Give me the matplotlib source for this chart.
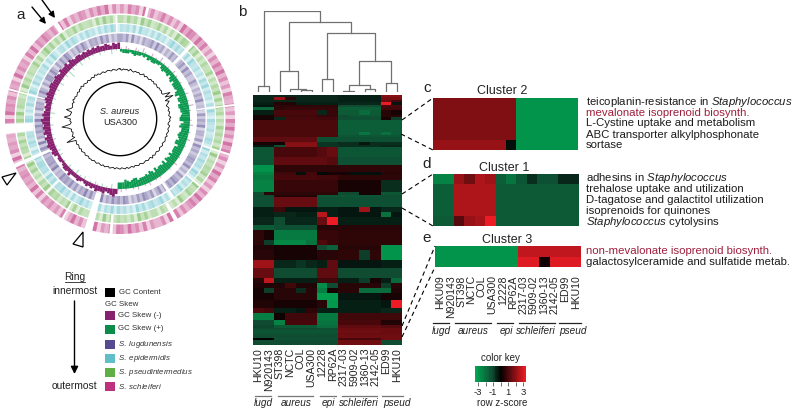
import numpy as np
import matplotlib
matplotlib.use('Agg')
import matplotlib.pyplot as plt
from matplotlib.colors import LinearSegmentedColormap, to_rgb
from matplotlib.patches import Polygon, Rectangle

plt.rcParams['font.family'] = ['Liberation Sans', 'DejaVu Sans']
plt.rcParams['mathtext.fontset'] = 'custom'
plt.rcParams['mathtext.rm'] = 'Liberation Sans'
plt.rcParams['mathtext.it'] = 'Liberation Sans:italic'

W, H = 800, 409

# Panel a: one digit per 2 degree sector, clockwise from north
ring_pink = ("5274618362" "4736251847" "6384725163" "7483625174" "3625174836" "2847361528"
             "4725163847" "5362748163" "3517264836" "7263518472" "6384172536" "4617283546"
             "5372816453" "4263718564" "6274518364" "5173826475" "3648271536" "5263748162")
ring_green = ("4263517362" "3625141736" "5273614253" "3614253726" "2735142635" "3526172435"
              "4625173462" "3714263514" "4263715243" "5362714253" "3516273425" "4627351426"
              "3726145362" "5142637254" "4261735243" "3625147362" "5271436253" "3416273514")
ring_cyan = ("4352617342" "5263414736" "3526174352" "4163725341" "5273164352" "3641725364"
             "5274163527" "4361527436" "5263714253" "6273516472" "5374261537" "4526371546"
             "6372514635" "4263751426" "3527416352" "4361527314" "5273641526" "3415263741")
ring_purple = ("5361724153" "4627351426" "3514627352" "2631425372" "3416253714" "4261735246"
               "5372416357" "4635274163" "5736241573" "6473528463" "7384526374" "6573428465"
               "5364728153" "6473825164" "5263741526" "6374152637" "5142637415" "4527361425")
skew_major = ("2333234332" "3243443324" "5445356466" "6578577688" "7767885786" "6787688577"
              "7686785867" "7685786766" "6577656755" "5465435445" "3434323433" "3534432332"
              "4545655646" "5656756545" "4565655665" "5654655646" "5455454545" "4544543545")
skew_minor = ("1021002103" "1002010301" "0100201001" "0010200103" "0100010200" "1002001000"
              "0100200100" "0010100201" "0020100102" "1003010201" "2010020103" "0102001002"
              "0201002010" "1020010301" "0102010200" "3010205020" "1030102010" "0201003010")
gc_dev = [1, -1, 1, 0, 1, -1, 2, 0, -1, 1, 0, 1, -1, 0, 2, -1, 1, 0, -1, 1,
          0, 1, -1, 1, 0, -1, 1, 0, 1, -1, 0, 10, 1, 12, -1, 4, 1, -2, 0, 1,
          -1, 1, 0, -1, 2, 0, 1, -1, -2, 1, 0, -1, 1, 0, -1, 1, -1, 0, 1, 0,
          -1, 1, 0, -1, 1, 1, -1, 0, 1, -1, 2, -1, 0, 1, -1, 0, 1, 0, -1, 1,
          0, -1, 1, -1, 0, 1, -1, 1, 0, -1, 1, 0, -1, 1, -1, 0, 1, -1, 0, 1,
          -1, 1, 0, -1, 1, 0, -1, 1, 0, 1, -1, 0, 1, -1, 0, 1, -1, 1, 0, -1,
          1, 0, -1, 12, -1, 2, 0, -1, 1, 0, 4, 13, 1, -1, 1, 0, 9, 1, 0, -1,
          7, 1, -1, 0, 1, -1, 2, 0, 1, -1, 0, 1, -1, 1, 0, 2, -1, 1, 0, -1,
          1, -1, 0, 1, -1, 2, 0, 1, -1, 0, 1, -1, 0, 1, 0, -1, 1, 0, -1, 1]
gap_theta = [326, 14, 358, 44, 83, 108, 146, 151, 184.5, 196, 265, 285, 246, 130, 225, 210]
gap_width = [2.5, 1.5, 1, 2, 1, 1, 2, 2, 1.5, 4, 5, 1, 2, 1, 1, 1]
gap_inner = [105, 105, 87, 77, 77, 87, 77, 96, 96, 77, 87, 77, 77, 87, 87, 96]
gap_outer = [116, 116, 104, 104, 116, 116, 96, 116, 116, 116, 116, 116, 116, 104, 104, 116]

legend_names = ['GC Content', 'GC Skew (-)', 'GC Skew (+)', r'$\it{S.\ lugdunensis}$',
                r'$\it{S.\ epidermidis}$', r'$\it{S.\ pseudintermedius}$', r'$\it{S.\ schleiferi}$']
legend_colors = ['#000000', '#87206e', '#0c8c4b', '#554b91', '#5fbec8', '#5faf46', '#be327d']

# Panel b
strains = ['HKU10', 'N920143', 'ST398', 'NCTC', 'COL', 'USA300', '12228', 'RP62A',
           '2317-03', '5909-02', '1360-13', '2142-05', 'ED99', 'HKU10']
strains_e = ['HKU09'] + strains[1:]
species = ['lugd', 'aureus', 'epi', 'schleiferi', 'pseud']
# linkage style: left id, right id, height; ids from 14 are earlier merges
merges = [(0, 1, 17), (4, 5, 5), (3, 15, 7), (2, 16, 63), (6, 7, 37), (8, 9, 3), (10, 11, 9),
          (19, 20, 20), (12, 13, 25), (21, 22, 93), (18, 23, 175), (17, 24, 210), (14, 25, 243)]

heat_counts = [1, 1, 1, 1, 1, 1, 2, 1, 1, 5, 1, 1, 2, 1, 1, 4, 3, 3, 1, 2, 5, 1, 1, 4, 2, 2, 3, 2, 4, 2,
               2, 4, 3, 4, 2, 2, 2, 3, 3, 2, 3, 2, 1, 1, 1, 1, 1, 1, 2]
heat_rows = [
    [-.5, -.5, -.5, -.5, -.5, -.5, -.5, -.5, -.4, -.4, -.4, -.4, 1.7, 1.7],
    [-.5, -.5, 1.9, .6, -.5, -.5, -.5, -.5, -.4, -.4, -.4, -.4, 1.5, 1.5],
    [-.5, -.5, -.5, -.5, -.5, -.5, -.5, -.5, -.4, -.4, -.4, -.4, 1.3, .8],
    [-.4, -.4, .4, .4, -.4, -.4, -.4, -.4, -.5, -.5, -.5, -.5, 3, -.3],
    [-.3, -.3, .6, .6, .6, .6, .6, .6, -1, -1, -1, -1, 1, .9],
    [-1.6, -1.6, .6, .7, .7, .7, .7, .7, -1.4, -1.4, -1.4, -1.4, .8, .8],
    [-.4, -.4, .9, .9, .9, .9, -.5, .7, -1.3, -1.3, -1.7, -1.3, .5, .3],
    [.3, .3, .8, .8, .8, .8, .7, .7, -1, -1.2, -1.2, -1.2, .5, .5],
    [.3, .3, -.5, .9, .9, .9, .8, .8, -1.1, -1.1, -1.1, -1.1, .3, -.8],
    [.95, .95, .95, .95, .95, .95, .95, .95, -1.4, -1.4, -1.4, -1.4, -1.4, -1.4],
    [.95, .95, .95, .95, .95, .95, .95, .95, -1.4, -1.4, -1.9, -1.4, -1.8, -1.4],
    [.95, .95, .95, .95, .95, .95, .95, .95, -1.2, -1.2, -1.2, -1.2, -1.2, -1.2],
    [1.2, 1.2, 1.2, 1.2, 1.2, 1.2, -1.1, -1.1, -1.1, -1.1, -1.1, -1.1, -1.1, -1.1],
    [.3, .3, .2, 1.7, 1.7, 1.7, -.7, -.7, -.6, -.6, -.3, -.6, -.6, -.6],
    [-.3, -.3, -1, 1.7, 1.7, 1.7, -.7, -.7, -.6, -.6, -.6, -.6, -.5, -.5],
    [-1.2, -1.2, .9, .9, .9, .9, 1.1, 1.3, -1.2, -1.2, -1.2, -1.2, -1.2, -1.2],
    [-1.2, -1.2, 1.2, 1.2, 1.2, 1.2, 1.2, 1.1, -1.1, -1.1, -1.1, -1.1, -1.1, -1.1],
    [-2.6, -2.6, .6, .6, .6, .6, .6, .6, .6, .6, .6, .6, .6, .6],
    [-2.2, -2.2, .8, .8, -.2, .8, -.1, .3, .3, -.2, -.2, -.2, .5, .5],
    [-2.0, -2.0, .9, .9, .9, .9, .8, .8, .6, .6, .6, .6, .6, .6],
    [-2.2, -2.2, .7, .7, .7, .7, .7, .7, .3, .3, .3, .3, -.6, -.6],
    [-1.1, .5, .6, .6, .6, .6, .6, .6, -1, -1, .3, .3, -1.2, -1.2],
    [-1, -1, .4, .4, .4, .4, -1.2, -1.2, -1.2, -1.2, -1.2, -1.2, -1, -1],
    [-1.1, -1.1, 1.3, 1.3, 1.3, 1.3, -1.1, -1.1, -1.1, -1.1, -1.1, -1.1, -1.1, -1.1],
    [-.4, -.4, .8, -.3, -.3, -.3, -.4, -.4, -.3, -.3, 2.0, -.3, -.5, -.5],
    [-.4, -.4, -.5, -.5, -.4, -.4, 2.3, -.4, -.3, -.3, -.3, -.3, -1.8, -.3],
    [-.5, -.5, -1, -.5, -.5, -.5, 1.3, 3, -.4, -.4, -.4, -.4, -.4, -.4],
    [-1.3, -1.3, -1.1, -1.1, -1.1, -1.1, .5, .5, .5, .5, .5, .5, .5, .5],
    [.6, .3, -2, -2, -2, -2, .7, .7, .6, .6, .6, .6, .6, .6],
    [.6, -.8, -2.3, -2.3, -2.3, -1.9, 1, .7, .6, .6, .6, .6, .6, .6],
    [.4, .4, .3, .3, .3, .3, -1, -1.5, .5, .5, .5, .5, -2.6, -2.6],
    [.5, .5, .3, .3, .3, .3, .5, .5, .6, .6, -.8, .6, -2.6, -2.6],
    [2, 2, -.5, -.5, -.7, -.5, -.4, 1.2, -.3, -.3, -.3, -.3, -.4, -.4],
    [1.3, 1.3, -1, -1, -1, -1, 1.2, 1.2, -1, -1, -1, -1, -1, -1],
    [.5, 2.4, -.4, -.4, -.4, -.4, .8, .8, -.4, -.4, -.8, .3, -.4, -1.6],
    [.4, .4, .4, .8, .4, .4, -2.4, -1, .5, .5, .5, .5, -.8, .5],
    [.3, -.8, .5, .5, -.6, .5, -2.1, .3, .5, .5, -1.7, -1.7, -1.7, .4],
    [.3, .3, .5, .5, .5, .5, -2.8, -2.8, -.3, -.3, -.3, -.3, .3, .3],
    [.4, .4, .3, .3, .3, .3, .5, -2.7, -.4, -.4, -.4, -.4, -.3, 3],
    [1, .8, -.4, -.4, -.3, .6, -.4, -.4, -.4, -.4, -.4, -.4, -.5, -.5],
    [-2.1, -2.1, .2, .8, .8, .8, -2, -2, .8, .8, .8, .8, .8, .8],
    [-1, -1, -2.2, .9, .9, .9, -1.9, -1.9, .9, .9, .9, .9, .4, .4],
    [-.9, -.9, -1.3, -1.3, -1.3, -1.3, -1.7, -1.7, 1.2, 1.2, 1.2, 1.2, 1.1, 1.1],
    [-1, -1, -1, -1, -1, -1, -1.1, -1.1, 1.35, 1.35, 1.35, 1.35, 1.35, 1.35],
    [-1.2, -1.2, -1.2, -1.2, -1.2, -1.2, -1.2, -1.2, 1.4, 1.4, 1.4, 1.4, 1.35, 1.35],
    [-1.1, -1.1, -1.1, -1.1, -1.1, -1.1, -1.1, -1.1, 1.35, 1.35, 1.35, 1.35, 1.35, 1.35],
    [-1, -1, -1, -1, -1, -1, -1, -1, 1.4, 1.4, 1.4, 1.4, 1.4, 1.4],
    [0, 0, -1.1, -1.1, -1.1, -1.1, -1.1, -1.1, .9, .9, .9, .9, 1.4, 1.4],
    [-1, -1, -1, -1, -1, -1, -1, -1, 1.4, 1.4, 1.4, 1.4, -1, -1],
]

# Panels c, d, e
cluster2 = [[1.6] * 8 + [-2.6] * 6] * 4 + [[1.9] * 7 + [-.2] + [-2.6] * 6]
cluster1 = [[-2.2, -2.2, 1.9, 1.4, 2.2, 2, -1.4, -1.9, -1.2, -.6, -1.1, -1.1, -.5, -.5]] \
    + [[-1.4, -1.4, 2.2, 2.2, 2.2, 2.2] + [-1.3] * 8] * 3 \
    + [[-1.3, -1.3, 1.1, 1.9, 2.1, 3] + [-1.3] * 8]
cluster3 = [[-2.6] * 8 + [2.4] * 6,
            [-2.6] * 8 + [2.8, 2.8, .2, 2.8, 2.8, 2.8]]
terms_c = ['teicoplanin-resistance in $\\it{Staphylococcus}$', 'mevalonate isoprenoid biosynth.',
           'L-Cystine uptake and metabolism', 'ABC transporter alkylphosphonate', 'sortase']
terms_d = ['adhesins in $\\it{Staphylococcus}$', 'trehalose uptake and utilization',
           'D-tagatose and galactitol utilization', 'isoprenoids for quinones',
           '$\\it{Staphylococcus}$ cytolysins']
terms_e = ['non-mevalonate isoprenoid biosynth.', 'galactosylceramide and sulfatide metab.']
key_ticks = [-3, -2, -1, 0, 1, 2, 3]

cmap = LinearSegmentedColormap.from_list('gkr', [(0, '#00a651'), (1 / 3, '#0f4c32'), (.5, '#000000'), (1, '#ed1c24')])


def px_axes(x0, y0, x1, y1, **kw):
    # axes placed with reference pixels, y going down
    return fig.add_axes([x0 / W, 1 - y1 / H, (x1 - x0) / W, (y1 - y0) / H], **kw)


def draw_heat(rows, box, counts=None, labels=None, size=7.6, pad=2):
    ax = px_axes(*box)
    arr = np.array(rows, dtype=float)
    if counts is None:
        counts = [1] * len(rows)
    edges = np.concatenate([[0], np.cumsum(counts)])
    ax.pcolormesh(np.arange(arr.shape[1] + 1), edges, arr, cmap=cmap, vmin=-3, vmax=3)
    ax.set_ylim(edges[-1], 0)
    ax.set_yticks([])
    for s in ax.spines.values():
        s.set_visible(False)
    if labels:
        ax.set_xticks(np.arange(len(labels)) + .5, labels, rotation=90, fontsize=size, color='#222222')
        ax.tick_params(axis='x', length=0, pad=pad)
    else:
        ax.set_xticks([])
    return ax


fig = plt.figure(figsize=(W / 100, H / 100), dpi=100, facecolor='white')

# a: genome rings
ax_a = px_axes(4, 3, 236, 235, projection='polar')
ax_a.set_theta_zero_location('N')
ax_a.set_theta_direction(-1)
ax_a.set_ylim(0, 116)
ax_a.axis('off')

rings = [(ring_purple, 77, 85.5, '#554b91'), (ring_cyan, 87, 95, '#5fbec8'),
         (ring_green, 96, 104, '#5faf46'), (ring_pink, 105.5, 115, '#be327d')]
for digits, r0, r1, col in rings:
    vals = np.array([int(c) for c in digits])
    th = np.radians((np.arange(len(vals)) + .5) * 360 / len(vals))
    rgb = to_rgb(col)
    colors = [rgb + (.16 + .065 * v,) for v in vals]
    ax_a.bar(th, r1 - r0, width=np.radians(360 / len(vals)), bottom=r0, color=colors, linewidth=0)

ax_a.bar(np.radians(gap_theta), np.array(gap_outer) - np.array(gap_inner), width=np.radians(gap_width),
         bottom=gap_inner, color='white', linewidth=0)

major = np.array([int(c) for c in skew_major])
minor = np.array([int(c) for c in skew_minor])
th = (np.arange(len(major)) + .5) * 2
right = th < 182
w = np.radians(2.1)
# green goes inward on the right half, purple outward on the left half
ax_a.bar(np.radians(th[right]), major[right] * 1.3, width=w, bottom=70 - major[right] * 1.3, color='#0c9a50', linewidth=0)
ax_a.bar(np.radians(th[~right]), major[~right] * 1.3, width=w, bottom=70, color='#87206e', linewidth=0)
ax_a.bar(np.radians(th[right]), minor[right] * 1.6, width=np.radians(.8), bottom=70, color='#87206e', alpha=.4, linewidth=0)
ax_a.bar(np.radians(th[~right]), minor[~right] * 1.6, width=np.radians(.8), bottom=70 - minor[~right] * 1.6, color='#0c9a50', alpha=.4, linewidth=0)

gc_theta = np.radians(np.arange(len(gc_dev) + 1) * 2)
gc_r = 49.5 + np.array(gc_dev + gc_dev[:1]) * .7
ax_a.plot(gc_theta, gc_r, color='#111111', lw=.6)
circle_th = np.linspace(0, 2 * np.pi, 361)
ax_a.plot(circle_th, np.full(361, 36.7), color='black', lw=1)

# b: dendrogram
ax_d = px_axes(253, 10.7, 402, 91.7)
pos = {i: i + .5 for i in range(14)}
top = {i: 0 for i in range(14)}
for n, (a, b, h) in enumerate(merges):
    ax_d.plot([pos[a], pos[a], pos[b], pos[b]], [top[a], h, h, top[b]], color='#707070', lw=.9)
    pos[14 + n] = (pos[a] + pos[b]) / 2
    top[14 + n] = h
ax_d.set_xlim(0, 14)
ax_d.set_ylim(0, 243)
ax_d.axis('off')

# b: main heatmap
draw_heat(heat_rows, (253, 95, 402, 345), heat_counts, strains)

# c, d, e
draw_heat(cluster2, (433, 98, 578, 150))
draw_heat(cluster1, (433, 174, 579, 226))
draw_heat(cluster3, (435, 246, 581, 267), labels=strains_e, pad=6)

# colour key
ax_k = px_axes(475, 366, 526, 382)
ax_k.pcolormesh(np.linspace(-3.4, 3.4, 61), [0, 1], np.linspace(-3, 3, 60)[None, :], cmap=cmap, vmin=-3, vmax=3)
ax_k.set_yticks([])
ax_k.set_xticks(key_ticks, ['-3', '', '-1', '', '1', '', '3'], fontsize=6.8, color='#222222')
ax_k.tick_params(axis='x', length=3, width=.6, color='#555555', pad=1.5)
for s in ax_k.spines.values():
    s.set_visible(False)

# page overlay for the annotations
ax_p = px_axes(0, 0, W, H)
ax_p.set_xlim(0, W)
ax_p.set_ylim(H, 0)
ax_p.axis('off')
ax_p.patch.set_alpha(0)

for letter, x, y in [('a', 21, 15), ('b', 242, 12), ('c', 427, 88), ('d', 427, 164), ('e', 427, 238)]:
    ax_p.text(x, y, letter, fontsize=11, ha='center', va='center', color='#222222')

ax_p.text(120, 112, 'S. aureus', fontsize=6.6, style='italic', ha='center', va='center', color='#222222')
ax_p.text(120, 122.5, 'USA300', fontsize=6.6, ha='center', va='center', color='#222222')

for (x0, y0, x1, y1) in [(32, 7, 46, 24), (42, 0, 55, 18)]:
    ax_p.annotate('', xy=(x1, y1), xytext=(x0, y0),
                  arrowprops=dict(arrowstyle='-|>', color='black', lw=1, mutation_scale=9, shrinkA=0, shrinkB=0))
ax_p.add_patch(Polygon([(2, 177), (16, 173), (7, 185)], fc='white', ec='black', lw=.9))
ax_p.add_patch(Polygon([(73, 244), (83, 247), (83, 232)], fc='white', ec='black', lw=.9))

# legend
ax_p.text(75, 276.5, 'Ring', fontsize=7.4, ha='center', va='center', color='#222222')
ax_p.plot([65, 85], [281.5, 281.5], color='#222222', lw=.6)
ax_p.text(75, 291, 'innermost', fontsize=7.4, ha='center', va='center', color='#222222')
ax_p.text(74, 386, 'outermost', fontsize=7.4, ha='center', va='center', color='#222222')
ax_p.annotate('', xy=(74.5, 374), xytext=(74.5, 301),
              arrowprops=dict(arrowstyle='-|>', color='black', lw=1, mutation_scale=11, shrinkA=0, shrinkB=0))
ax_p.text(105, 304.5, 'GC Skew', fontsize=5.7, va='center', color='#333333')
legend_y = [292.5, 315.5, 329, 344.5, 358.5, 372.5, 386.5]
for name, col, y in zip(legend_names, legend_colors, legend_y):
    ax_p.add_patch(Rectangle((105, y - 4.5), 9.5, 9, fc=col, ec='none'))
    ax_p.text(117.5 if y > 295 else 119, y, name, fontsize=5.7, va='center', color='#333333')

# species bars and labels under the two labelled heatmaps
bars_b = [(255, 271), (278, 313), (320, 336), (342, 377), (382, 403)]
bars_e = [(433, 449), (455, 491), (497, 513), (519, 555), (559, 581)]
cent_b = [263, 296, 328, 359, 397]
cent_e = [441, 473, 506, 536, 573]
for bars, cents, y_bar, y_txt, col in [(bars_b, cent_b, 396, 403.5, '#777777'), (bars_e, cent_e, 323, 331.5, '#222222')]:
    for name, (x0, x1), c in zip(species, bars, cents):
        ax_p.plot([x0, x1], [y_bar, y_bar], color=col, lw=.9)
        ax_p.text(c, y_txt, name, fontsize=7.2, style='italic', ha='center', va='center', color='#222222')

# dashed connectors
for (x0, y0, x1, y1) in [(402, 120, 433, 98), (401, 134, 433, 150), (402, 194, 433, 174),
                         (402, 208, 433, 226), (402, 326, 435, 246), (402, 337, 435, 267)]:
    ax_p.plot([x0, x1], [y0, y1], color='black', lw=.8, ls=(0, (4, 3)))

for title, x, y in [('Cluster 2', 502, 91), ('Cluster 1', 504, 168), ('Cluster 3', 507, 240)]:
    ax_p.text(x, y, title, fontsize=9, ha='center', va='center', color='#222222')

for terms, ys in [(terms_c, [102, 113, 123.5, 134.5, 145]), (terms_d, [178, 189, 200, 211, 222]), (terms_e, [251, 262])]:
    for t, y in zip(terms, ys):
        col = '#9e1f3c' if 'mevalonate' in t else '#1c1c1c'
        ax_p.text(586, y, t, fontsize=8.2, va='center', color=col)

ax_p.text(500, 358, 'color key', fontsize=7, ha='center', va='center', color='#222222')
ax_p.text(502, 403.5, 'row z-score', fontsize=7, ha='center', va='center', color='#222222')

fig.savefig('out.png', dpi=100)
